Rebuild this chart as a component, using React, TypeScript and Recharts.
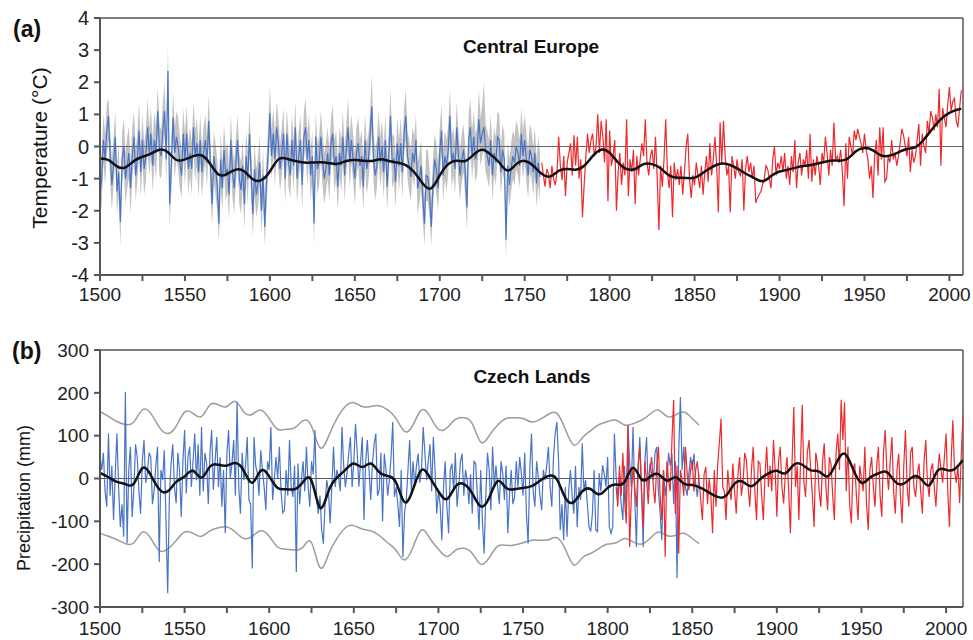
import { ComposedChart, Line, Area, XAxis, YAxis, ReferenceLine } from "recharts";

// ---- axis ticks ----
const xTicks = [1500, 1525, 1550, 1575, 1600, 1625, 1650, 1675, 1700, 1725, 1750, 1775, 1800, 1825, 1850, 1875, 1900, 1925, 1950, 1975, 2000];
const tempTicks = [-4, -3, -2, -1, 0, 1, 2, 3, 4];
const precTicks = [-300, -200, -100, 0, 100, 200, 300];

// ---- (a) Central Europe temperature ----
// reconstruction (blue), 1500-1759
const tempBlueStart = 1500;
const tempBlue = [
  -1.5, -1.0, 0.2, -0.4, 0.5, 0.95, -0.3, -1.2, -0.5, 0.3,
  -1.4, -0.8, -2.35, -0.4, 0.0, -1.0, -0.6, -0.2, -1.3, -0.3,
  0.3, -0.9, -0.4, 0.5, -0.8, 0.2, -0.7, -0.3, 0.6, -0.2,
  0.4, -0.6, 0.2, -0.2, 1.1, -0.1, -0.3, 0.5, 1.1, -0.4,
  2.35, -1.8, -0.6, 0.9, -0.2, 0.3, 0.0, -0.5, -0.9, 0.4,
  -0.4, 0.4, -0.7, -0.2, -0.7, 0.6, -0.3, 0.1, -0.8, 0.2,
  -0.8, -0.2, 0.2, -0.5, 0.8, -0.6, -1.8, -0.3, -0.7, -1.2,
  -2.4, -0.4, -1.3, -0.1, -0.9, -0.7, -1.5, 0.2, -0.8, -1.3,
  -0.5, 0.2, -1.0, -1.35, -0.6, -1.8, -0.3, -1.0, 0.4, -0.9,
  -2.1, -0.7, -1.5, -1.15, -0.5, -2.0, -0.9, -2.5, -1.1, -0.2,
  1.05, -0.3, 0.4, -0.4, 0.6, 0.1, -0.7, -0.2, 0.4, -1.0,
  0.4, -0.5, -0.9, 0.2, -0.6, 0.6, -1.0, -0.3, 0.2, -1.2,
  0.3, 0.6, -0.4, 0.2, -0.9, -0.3, -2.4, 0.3, -0.7, -0.5,
  0.3, -0.4, -1.0, -0.7, -0.2, -0.9, 0.1, 0.4, -0.6, -0.3,
  -1.25, -0.2, -0.6, 0.3, -0.9, -0.1, 0.6, -0.5, 0.2, -0.4,
  -1.0, -0.2, 0.1, -0.6, -0.3, -1.25, 0.2, -0.7, -0.4, 0.3,
  1.25, -0.4, -0.9, -0.6, 0.3, -0.5, 0.0, -0.8, 0.2, -1.25,
  -0.3, 0.95, -0.5, -0.4, -1.1, 0.1, -0.6, 0.1, -0.8, 0.4,
  0.95, -0.3, -0.6, -0.95, -0.2, -0.5, 0.2, -1.3, -1.05, -0.6,
  -1.6, -2.4, -0.9, -0.95, -1.5, -2.5, -1.2, -0.4, -0.7, -1.3,
  -0.2, 0.5, -0.9, -0.3, -0.6, -0.1, 0.95, -0.5, -0.2, -0.7,
  0.6, -0.3, -0.9, -0.4, -0.1, -0.8, -1.9, 0.2, 0.6, -0.3,
  0.3, -0.4, -0.2, 0.85, 0.1, 0.4, 0.6, -0.1, -0.3, -0.6,
  0.2, -0.9, -0.2, -0.5, 0.3, 0.2, -0.8, -0.1, -0.4, -2.9,
  -0.6, -1.2, -0.7, -0.3, -0.5, 0.0, -0.2, -0.6, 0.4, -0.3,
  0.2, -0.4, -0.9, -0.1, -0.3, -0.8, -0.2, -1.15, -0.5, -0.95,
];
// uncertainty band (grey), upper and lower edge, 1500-1759
const tempBandHigh = [
  -0.8, -0.1, 1.0, 0.4, 1.3, 1.5, 0.5, -0.4, 0.3, 1.1,
  -0.6, 0.1, -1.6, 0.4, 0.9, -0.2, 0.3, 0.6, -0.5, 0.6,
  1.1, -0.1, 0.4, 1.4, 0.0, 1.0, 0.1, 0.5, 1.5, 0.6,
  1.2, 0.2, 1.1, 0.6, 1.9, 0.7, 0.5, 1.4, 2.0, 0.4,
  3.15, -1.0, 0.2, 1.7, 0.6, 1.1, 0.9, 0.3, -0.1, 1.2,
  0.4, 1.3, 0.1, 0.6, 0.1, 1.4, 0.5, 0.9, 0.0, 1.0,
  0.0, 0.6, 1.0, 0.3, 1.6, 0.2, -1.0, 0.5, 0.1, -0.4,
  -1.6, 0.4, -0.5, 0.7, -0.1, 0.1, -0.7, 1.0, 0.0, -0.5,
  0.3, 1.0, -0.2, -0.5, 0.2, -1.0, 0.5, -0.2, 1.2, -0.1,
  -1.3, 0.1, -0.7, -0.3, 0.3, -1.2, -0.1, -1.7, -0.3, 0.6,
  1.9, 0.5, 1.2, 0.4, 1.4, 0.9, 0.1, 0.6, 1.2, -0.2,
  1.2, 0.3, -0.1, 1.0, 0.2, 1.4, -0.2, 0.5, 1.0, -0.4,
  1.1, 1.5, 0.4, 1.0, -0.1, 0.5, -1.6, 1.1, 0.1, 0.3,
  1.1, 0.4, -0.2, 0.1, 0.6, -0.1, 0.9, 1.3, 0.2, 0.5,
  -0.4, 0.6, 0.2, 1.1, -0.1, 0.7, 1.5, 0.3, 1.0, 0.4,
  -0.2, 0.6, 0.9, 0.2, 0.5, -0.4, 1.0, 0.1, 0.4, 1.1,
  2.2, 0.4, -0.1, 0.2, 1.1, 0.3, 0.8, 0.0, 1.0, -0.4,
  0.5, 1.8, 0.3, 0.4, -0.3, 0.9, 0.2, 0.9, 0.0, 1.2,
  1.8, 0.5, 0.2, -0.1, 0.6, 0.3, 1.0, -0.5, -0.2, 0.2,
  -0.8, -1.6, -0.1, -0.1, -0.7, -1.7, -0.4, 0.4, 0.1, -0.5,
  0.6, 1.3, -0.1, 0.5, 0.2, 0.7, 1.8, 0.3, 0.6, 0.1,
  1.4, 0.5, -0.1, 0.4, 0.7, 0.0, -1.1, 1.0, 1.5, 0.5,
  1.1, 0.4, 0.6, 1.8, 0.9, 1.3, 2.0, 0.7, 0.5, 0.2,
  1.0, -0.1, 0.6, 0.3, 1.1, 1.0, 0.0, 0.7, 0.4, -2.2,
  0.2, -0.4, 0.1, 0.5, 0.3, 0.8, 0.6, 0.2, 1.2, 0.5,
  1.0, 0.4, -0.1, 0.7, 0.5, 0.0, 0.6, -0.4, 0.3, -0.2,
];
const tempBandLow = [
  -2.2, -1.8, -0.5, -1.2, -0.3, 0.2, -1.1, -2.0, -1.2, -0.4,
  -2.1, -1.5, -3.1, -1.2, -0.7, -1.8, -1.3, -1.0, -2.1, -1.0,
  -0.4, -1.7, -1.1, -0.2, -1.6, -0.5, -1.5, -1.1, -0.1, -0.9,
  -0.3, -1.4, -0.5, -1.0, 0.4, -0.9, -1.0, -0.2, 0.4, -1.2,
  1.6, -2.5, -1.4, 0.2, -1.0, -0.4, -0.7, -1.3, -1.6, -0.3,
  -1.2, -0.3, -1.5, -0.9, -1.5, -0.1, -1.1, -0.6, -1.6, -0.5,
  -1.6, -0.9, -0.5, -1.3, 0.1, -1.4, -2.5, -1.1, -1.5, -2.0,
  -3.0, -1.2, -2.0, -0.8, -1.7, -1.4, -2.3, -0.5, -1.6, -2.1,
  -1.2, -0.5, -1.8, -2.1, -1.3, -2.6, -1.0, -1.8, -0.3, -1.6,
  -2.8, -1.5, -2.2, -1.9, -1.2, -2.7, -1.7, -3.1, -1.9, -0.9,
  0.3, -1.0, -0.3, -1.2, -0.1, -0.7, -1.4, -0.9, -0.3, -1.8,
  -0.3, -1.3, -1.6, -0.5, -1.4, -0.1, -1.8, -1.0, -0.5, -2.0,
  -0.4, -0.1, -1.2, -0.5, -1.7, -1.0, -3.1, -0.4, -1.5, -1.2,
  -0.4, -1.2, -1.8, -1.4, -1.0, -1.7, -0.6, -0.3, -1.4, -1.0,
  -2.0, -0.9, -1.4, -0.4, -1.7, -0.8, -0.1, -1.3, -0.5, -1.1,
  -1.8, -0.9, -0.6, -1.4, -1.0, -2.0, -0.5, -1.5, -1.1, -0.4,
  0.5, -1.1, -1.7, -1.3, -0.4, -1.3, -0.7, -1.6, -0.5, -2.0,
  -1.0, 0.2, -1.3, -1.1, -1.9, -0.6, -1.4, -0.6, -1.6, -0.3,
  0.2, -1.0, -1.4, -1.7, -0.9, -1.3, -0.5, -2.1, -1.8, -1.3,
  -2.3, -3.1, -1.7, -1.7, -2.2, -3.1, -1.9, -1.1, -1.5, -2.0,
  -0.9, -0.2, -1.7, -1.0, -1.4, -0.8, 0.2, -1.3, -0.9, -1.5,
  -0.1, -1.1, -1.7, -1.1, -0.8, -1.6, -2.6, -0.5, -0.1, -1.0,
  -0.4, -1.1, -0.9, 0.1, -0.6, -0.3, -0.1, -0.8, -1.0, -1.3,
  -0.5, -1.7, -0.9, -1.2, -0.4, -0.5, -1.5, -0.8, -1.1, -3.5,
  -1.3, -1.9, -1.4, -1.0, -1.2, -0.7, -0.9, -1.3, -0.3, -1.0,
  -0.5, -1.1, -1.6, -0.8, -1.0, -1.5, -0.9, -1.9, -1.2, -1.7,
];
// instrumental (red), 1760-2007
const tempRedStart = 1760;
const tempRed = [
  -0.5, -0.9, -1.25, -0.7, -0.85, -1.3, -0.6, -1.0, -1.2, -0.8,
  0.3, -0.6, -1.05, -0.3, -1.55, -0.5, -0.2, 0.1, -0.9, 0.35,
  -0.6, 0.3, -1.0, -0.4, -2.2, -1.2, -0.3, 0.4, -0.2, 0.2,
  0.4, -0.3, 0.0, 1.0, -0.2, 0.8, 0.3, -0.5, 0.85, -1.7,
  0.5, -0.6, -0.3, 0.2, -2.0, -0.8, -0.2, -1.2, -0.5, -0.9,
  0.85, -1.55, -0.4, -0.8, -0.1, -1.8, -0.3, -0.9, -0.4, 0.1,
  -0.3, 0.85, -0.5, -0.9, -0.3, -0.1, -0.7, 0.3, -1.0, -2.6,
  -0.6, -1.25, -0.4, 0.85, -0.8, -1.3, -0.6, -2.2, -0.5, -1.05,
  -0.7, -1.2, -0.6, -1.5, -0.8, 0.0, 0.4, -1.0, -1.6, -0.9,
  -1.2, -0.5, -0.9, -1.3, -0.6, -1.5, -0.8, -0.3, -1.1, 0.1,
  -0.9, -0.4, 0.3, -0.6, -2.05, 0.75, -0.5, 0.8, -0.3, -0.9,
  -0.6, -2.05, -0.3, -0.6, -1.0, -0.4, -0.8, -0.9, -0.4, -2.0,
  -0.7, -0.3, -0.8, -0.5, -1.0, -0.6, -1.75, -1.6, -1.5, -1.4,
  -1.2, -1.0, -0.6, -0.7, -1.0, -1.3, -0.4, 0.0, -0.9, -0.5,
  -0.7, -0.3, -0.8, -0.2, -1.0, -0.6, -1.2, -0.3, -0.8, 0.2,
  -1.3, -0.5, -0.2, -0.9, -0.4, -0.6, -0.1, -1.0, 0.4, -1.1,
  -0.4, -0.9, -0.3, -0.6, -1.2, -0.2, -0.5, 0.3, -0.2, -0.9,
  -0.1, -0.6, 0.75, -0.4, -0.3, -0.5, -0.1, -0.8, -1.85, 0.1,
  -1.0, 0.3, 0.0, -0.3, 0.5, 0.2, 0.55, 0.3, 0.1, -0.2,
  0.4, -0.1, -0.4, -1.0, -0.6, -1.6, -0.3, 0.2, -0.9, 0.6,
  -0.4, 0.6, -1.1, -1.0, -0.3, -0.5, 0.2, -0.4, -0.2, -0.6,
  -0.3, 0.1, 0.55, 0.35, 0.0, -0.3, 0.3, -0.8, -0.1, -0.5,
  -0.3, 0.2, 0.7, -0.6, 0.4, 0.0, -0.2, 0.8, 0.4, 1.1,
  0.9, 0.5, 1.0, 0.6, 1.8, -0.6, 1.2, 0.9, 0.6, 1.3,
  1.85, 1.1, 1.4, 1.5, 0.8, 0.6, 1.2, 1.75,
];
// smoothed temperature (black), [year, value]
const tempSmooth: [number, number][] = [
  [1500, -0.37], [1505, -0.42], [1510, -0.62], [1515, -0.65], [1520, -0.45], [1525, -0.32], [1530, -0.22], [1535, -0.1],
  [1540, -0.18], [1545, -0.42], [1550, -0.4], [1555, -0.3], [1560, -0.28], [1565, -0.55], [1570, -0.88], [1575, -0.85],
  [1580, -0.72], [1585, -0.78], [1590, -1.02], [1595, -1.05], [1600, -0.78], [1605, -0.4], [1610, -0.38], [1615, -0.45],
  [1620, -0.5], [1625, -0.5], [1630, -0.49], [1635, -0.52], [1640, -0.54], [1645, -0.45], [1650, -0.42], [1655, -0.44],
  [1660, -0.45], [1665, -0.4], [1670, -0.45], [1675, -0.5], [1680, -0.58], [1685, -0.8], [1690, -1.15], [1695, -1.3],
  [1700, -0.9], [1705, -0.55], [1710, -0.44], [1715, -0.45], [1720, -0.25], [1725, -0.1], [1730, -0.25], [1735, -0.5],
  [1740, -0.75], [1745, -0.55], [1750, -0.45], [1755, -0.6], [1760, -0.85], [1765, -0.93], [1770, -0.76], [1775, -0.7],
  [1780, -0.72], [1785, -0.6], [1790, -0.3], [1795, -0.1], [1800, -0.2], [1805, -0.5], [1810, -0.7], [1815, -0.7],
  [1820, -0.55], [1825, -0.55], [1830, -0.68], [1835, -0.9], [1840, -0.97], [1845, -0.98], [1850, -0.97], [1855, -0.82],
  [1860, -0.65], [1865, -0.54], [1870, -0.56], [1875, -0.68], [1880, -0.84], [1885, -0.98], [1890, -1.08], [1895, -0.92],
  [1900, -0.78], [1905, -0.72], [1910, -0.65], [1915, -0.6], [1920, -0.56], [1925, -0.5], [1930, -0.44], [1935, -0.44],
  [1940, -0.38], [1945, -0.15], [1950, -0.05], [1955, -0.12], [1960, -0.28], [1965, -0.28], [1970, -0.18], [1975, -0.08],
  [1980, -0.02], [1985, 0.22], [1990, 0.55], [1995, 0.85], [2000, 1.05], [2005, 1.15], [2007, 1.18],
];

// ---- (b) Czech Lands precipitation ----
// reconstruction (blue), 1500-1854
const precBlueStart = 1500;
const precBlue = [
  50, 20, 60, -30, -66, 105, -40, 30, -97, 10,
  105, -20, -113, -60, -136, 202, -152, 20, 74, -90,
  -27, 80, 50, -30, -82, 40, 90, -10, 12, 60,
  50, -60, -27, 30, 74, -195, 20, -4, 66, -100,
  -268, -43, 35, 80, -20, -58, 60, 19, -90, 40,
  113, -35, 50, 74, -20, 40, 105, -4, 80, -40,
  120, -30, 60, 35, -60, 60, 113, -27, 40, 97,
  -20, 50, -66, 20, -128, 60, 113, 0, 35, 90,
  -40, 179, -20, -82, 60, -4, 30, 97, -50, -60,
  -210, 97, 30, 12, -40, 66, 20, -20, -74, 40,
  20, 120, -50, -4, 50, 0, 74, -30, -80, -74,
  20, -40, 90, -20, -43, 30, -218, 35, -60, -4,
  40, -30, 74, -20, -66, 40, 10, 113, -50, -82,
  -40, -120, -152, -60, -4, -30, -105, -20, 74, -20,
  20, 4, -30, 120, 30, -20, 12, 60, 97, -20,
  40, 128, 60, -19, 40, 97, -97, 40, 90, 20,
  -50, 35, 80, 105, -40, -27, 60, -100, 58, 20,
  -40, -4, 50, 132, -43, -20, -60, -113, 20, -183,
  -80, -50, 20, 90, -30, 40, -19, 30, 58, -10,
  20, 120, 60, -4, 40, 80, -30, 97, 20, -82,
  -30, -60, -144, -20, 40, -66, -128, 20, 35, -30,
  60, -66, -20, 40, 58, -40, 20, -4, -60, 10,
  -82, 40, 35, -40, -120, 20, -100, -175, -40, 60,
  20, -74, 74, -20, 30, -19, -60, 40, 12, -50,
  30, -128, -40, 20, -60, -43, 40, -20, 50, 12,
  -40, 60, -82, -152, 20, 105, -30, -66, 40, 4,
  -40, -74, 20, -4, 30, 74, -20, -66, 50, 105,
  132, 40, -120, -60, -144, -20, -136, -27, 20, -40,
  -82, 30, -113, -20, -50, 82, -30, -4, -60, -113,
  -124, -82, 20, -120, -124, 12, -30, 31, 10, -19,
  50, -113, -128, -113, 105, 4, -40, 4, -60, -97,
  30, -89, 125, 35, -20, 120, -40, -160, 20, 97,
  -20, -160, 40, 97, -30, 35, 10, -4, 60, 74,
  -30, -80, -144, 20, -40, -10, 60, 30, 58, -60,
  40, -233, 60, 190, 20, 74, -20, -40, 12, 50,
  20, 58, -10, -43, 10,
];
// instrumental (red), 1805-2010
const precRedStart = 1805;
const precRed = [
  -20, -66, 30, -40, 60,
  -50, -105, 124, -160, -40, 27, -20, -66, 30, 74,
  -30, -113, 40, -4, -60, 20, 50, -20, -58, 30,
  74, -40, -97, 20, -183, 40, -4, -30, 90, 183,
  -82, 30, -175, 20, -4, -40, 74, 10, -27, 20,
  43, -30, 19, 40, -4, -50, -97, 10, 27, -60,
  0, -40, -128, 20, -66, 30, 82, 140, -20, -30,
  -97, 20, -27, -50, 35, -30, -82, 10, 50, -40,
  -10, 60, 43, -20, -66, 20, 74, -30, -97, 40,
  35, -40, -97, 10, 74, -20, 30, -30, 90, 20,
  -89, 40, 74, -20, -58, 10, 50, -30, -128, 40,
  167, -20, 30, -97, 40, 172, -10, -43, 60, 90,
  20, -40, -113, 60, 35, -30, -66, 40, 82, -20,
  -74, 50, 35, -40, -97, 60, 105, 20, 184, 90,
  178, -30, 74, -60, -105, 20, 35, -40, -97, 30,
  0, -30, 74, -60, -120, 20, 50, -20, -66, 30,
  74, -40, -89, 60, 113, 20, -27, 40, 97, -30,
  -82, 20, 58, -40, -105, 30, 113, -20, -66, 60,
  74, -20, -43, 10, 35, -30, -82, 40, 90, -10,
  -43, 20, 35, -20, -66, 10, 58, 20, -10, 50,
  105, -30, -113, 40, 136, 20, -10, 30, -57, 60,
  148,
];
// smoothed precipitation (black), [year, value]
const precSmooth: [number, number][] = [
  [1500, 13], [1505, 3], [1510, -8], [1515, -13], [1520, -12], [1525, 24], [1530, 8], [1535, -25],
  [1540, -30], [1545, -8], [1550, 5], [1555, 18], [1560, 2], [1565, 28], [1570, 32], [1575, 30],
  [1580, 36], [1585, 18], [1590, -10], [1595, 18], [1600, 5], [1605, -22], [1610, -25], [1615, -25],
  [1620, -8], [1625, -5], [1630, -68], [1635, -30], [1640, 2], [1645, 20], [1650, 35], [1655, 27],
  [1660, 35], [1665, 15], [1670, 6], [1675, -10], [1680, -55], [1685, -25], [1690, 20], [1695, 2],
  [1700, -30], [1705, -48], [1710, -19], [1715, -13], [1720, -35], [1725, -65], [1730, -45], [1735, -6],
  [1740, -22], [1745, -25], [1750, -22], [1755, -18], [1760, -5], [1765, 6], [1770, -2], [1775, -45],
  [1780, -55], [1785, -30], [1790, -25], [1795, -37], [1800, -22], [1805, -14], [1810, -8], [1815, 25],
  [1820, -2], [1825, 4], [1830, 10], [1835, -5], [1840, 3], [1845, -12], [1850, -15], [1855, -22],
  [1860, -33], [1865, -43], [1870, -40], [1875, -12], [1880, -8], [1885, -18], [1890, -2], [1895, 12],
  [1900, 18], [1905, 12], [1910, 32], [1915, 32], [1920, 19], [1925, 16], [1930, 5], [1935, 35],
  [1940, 58], [1945, 22], [1950, -10], [1955, 2], [1960, 12], [1965, 15], [1970, -8], [1975, -12],
  [1980, 3], [1985, 0], [1990, -16], [1995, 18], [2000, 20], [2005, 22], [2010, 43],
];
// 2-sigma envelope of the reconstruction (grey lines), [year, upper, lower]
const precEnvelope: [number, number, number][] = [
  [1500, 156, -128], [1505, 145, -135], [1510, 133, -143], [1515, 126, -152], [1520, 132, -150], [1525, 160, -125],
  [1530, 152, -140], [1535, 120, -168], [1540, 105, -165], [1545, 122, -145], [1550, 155, -125], [1555, 152, -128],
  [1560, 145, -135], [1565, 172, -122], [1570, 172, -115], [1575, 168, -113], [1580, 180, -125], [1585, 155, -140],
  [1590, 150, -135], [1595, 160, -122], [1600, 140, -135], [1605, 115, -160], [1610, 115, -165], [1615, 118, -167],
  [1620, 135, -160], [1625, 122, -150], [1630, 72, -208], [1635, 98, -178], [1640, 140, -140], [1645, 168, -115],
  [1650, 177, -110], [1655, 168, -118], [1660, 168, -122], [1665, 170, -133], [1670, 160, -150], [1675, 140, -168],
  [1680, 110, -190], [1685, 125, -160], [1690, 160, -120], [1695, 145, -140], [1700, 115, -165], [1705, 118, -182],
  [1710, 138, -168], [1715, 142, -163], [1720, 128, -175], [1725, 85, -200], [1730, 100, -185], [1735, 125, -158],
  [1740, 140, -156], [1745, 142, -155], [1750, 140, -150], [1755, 132, -144], [1760, 138, -144], [1765, 150, -143],
  [1770, 152, -138], [1775, 115, -165], [1780, 78, -202], [1785, 95, -185], [1790, 112, -175], [1795, 126, -163],
  [1800, 133, -153], [1805, 136, -150], [1810, 125, -140], [1815, 128, -148], [1820, 136, -153], [1825, 150, -140],
  [1830, 160, -125], [1835, 145, -133], [1840, 148, -133], [1845, 155, -128], [1850, 140, -140], [1854, 125, -152],
];

// ---- tables for recharts ----
const seriesRows = (start: number, values: number[]) => values.map((v, i) => ({ year: start + i, v }));
const tempBlueRows = seriesRows(tempBlueStart, tempBlue);
const tempRedRows = seriesRows(tempRedStart, tempRed);
const tempBandRows = tempBandHigh.map((hi, i) => ({ year: tempBlueStart + i, band: [tempBandLow[i], hi] }));
const tempSmoothRows = tempSmooth.map(([year, v]) => ({ year, v }));
const precBlueRows = seriesRows(precBlueStart, precBlue);
const precRedRows = seriesRows(precRedStart, precRed);
const precSmoothRows = precSmooth.map(([year, v]) => ({ year, v }));
const precEnvRows = precEnvelope.map(([year, up, lo]) => ({ year, up, lo }));

const BLUE = "#4a74c6";
const RED = "#ec2a2e";
const AXIS = "#555";
const labelEvery50 = (y: number) => (y % 50 === 0 ? String(y) : "");

const abs = (left: number, top: number): React.CSSProperties => ({ position: "absolute", left, top });

export default function App() {
  return (
    <div style={{ position: "absolute", left: 0, top: 0, width: 973, height: 640, background: "#fff", fontFamily: "'Liberation Sans', Arial, sans-serif", color: "#111" }}>
      {/* (a) temperature */}
      <div style={abs(0, 0)}>
        <ComposedChart width={973} height={310} margin={{ top: 18, right: 10, bottom: 0, left: 0 }}>
          <XAxis type="number" dataKey="year" domain={[1500, 2008]} ticks={xTicks} interval={0} tickFormatter={labelEvery50}
            allowDataOverflow stroke={AXIS} strokeWidth={2} tickSize={6} tickMargin={7} height={35} tick={{ fill: "#222", fontSize: 19 }} />
          <YAxis type="number" domain={[-4, 4]} ticks={tempTicks} interval={0} width={100} stroke={AXIS} strokeWidth={2}
            tickSize={6} tickMargin={5} tick={{ fill: "#222", fontSize: 20 }} />
          <Area data={tempBandRows} dataKey="band" type="linear" stroke="none" fill="#c2c2c2" fillOpacity={1} isAnimationActive={false} />
          <ReferenceLine y={0} stroke="#666" strokeWidth={1.2} />
          <ReferenceLine y={4} stroke={AXIS} strokeWidth={1.5} />
          <ReferenceLine x={2008} stroke={AXIS} strokeWidth={1.5} />
          <Line data={tempBlueRows} dataKey="v" type="linear" stroke={BLUE} strokeWidth={1.2} dot={false} isAnimationActive={false} />
          <Line data={tempRedRows} dataKey="v" type="linear" stroke={RED} strokeWidth={1.2} dot={false} isAnimationActive={false} />
          <Line data={tempSmoothRows} dataKey="v" type="natural" stroke="#111" strokeWidth={2.5} dot={false} isAnimationActive={false} />
        </ComposedChart>
      </div>

      {/* (b) precipitation */}
      <div style={abs(0, 330)}>
        <ComposedChart width={973} height={310} margin={{ top: 20, right: 10, bottom: 0, left: 0 }}>
          <XAxis type="number" dataKey="year" domain={[1500, 2010]} ticks={xTicks} interval={0} tickFormatter={labelEvery50}
            allowDataOverflow stroke={AXIS} strokeWidth={2} tickSize={6} tickMargin={9} height={33} tick={{ fill: "#222", fontSize: 19 }} />
          <YAxis type="number" domain={[-300, 300]} ticks={precTicks} interval={0} width={100} stroke={AXIS} strokeWidth={2}
            tickSize={6} tickMargin={5} tick={{ fill: "#222", fontSize: 19 }} />
          <ReferenceLine y={0} stroke="#555" strokeWidth={1.2} />
          <ReferenceLine y={300} stroke={AXIS} strokeWidth={1.5} />
          <ReferenceLine x={2010} stroke={AXIS} strokeWidth={1.5} />
          <Line data={precEnvRows} dataKey="up" type="natural" stroke="#9c9c9c" strokeWidth={1.5} dot={false} isAnimationActive={false} />
          <Line data={precEnvRows} dataKey="lo" type="natural" stroke="#9c9c9c" strokeWidth={1.5} dot={false} isAnimationActive={false} />
          <Line data={precBlueRows} dataKey="v" type="linear" stroke={BLUE} strokeWidth={1.2} dot={false} isAnimationActive={false} />
          <Line data={precRedRows} dataKey="v" type="linear" stroke={RED} strokeWidth={1.2} dot={false} isAnimationActive={false} />
          <Line data={precSmoothRows} dataKey="v" type="natural" stroke="#111" strokeWidth={2.5} dot={false} isAnimationActive={false} />
        </ComposedChart>
      </div>

      {/* texts */}
      <div style={{ ...abs(13, 16), fontSize: 23, fontWeight: 700 }}>(a)</div>
      <div style={{ ...abs(12, 338), fontSize: 23, fontWeight: 700 }}>(b)</div>
      <div style={{ ...abs(421, 36), width: 220, textAlign: "center", fontSize: 19, fontWeight: 700 }}>Central Europe</div>
      <div style={{ ...abs(422, 366), width: 220, textAlign: "center", fontSize: 19, fontWeight: 700 }}>Czech Lands</div>
      <div style={{ ...abs(40 - 110, 148 - 13), width: 220, height: 26, lineHeight: "26px", textAlign: "center", fontSize: 21, transform: "rotate(-90deg)" }}>Temperature (°C)</div>
      <div style={{ ...abs(24 - 110, 498 - 12), width: 220, height: 24, lineHeight: "24px", textAlign: "center", fontSize: 18, transform: "rotate(-90deg)" }}>Precipitation (mm)</div>
    </div>
  );
}
